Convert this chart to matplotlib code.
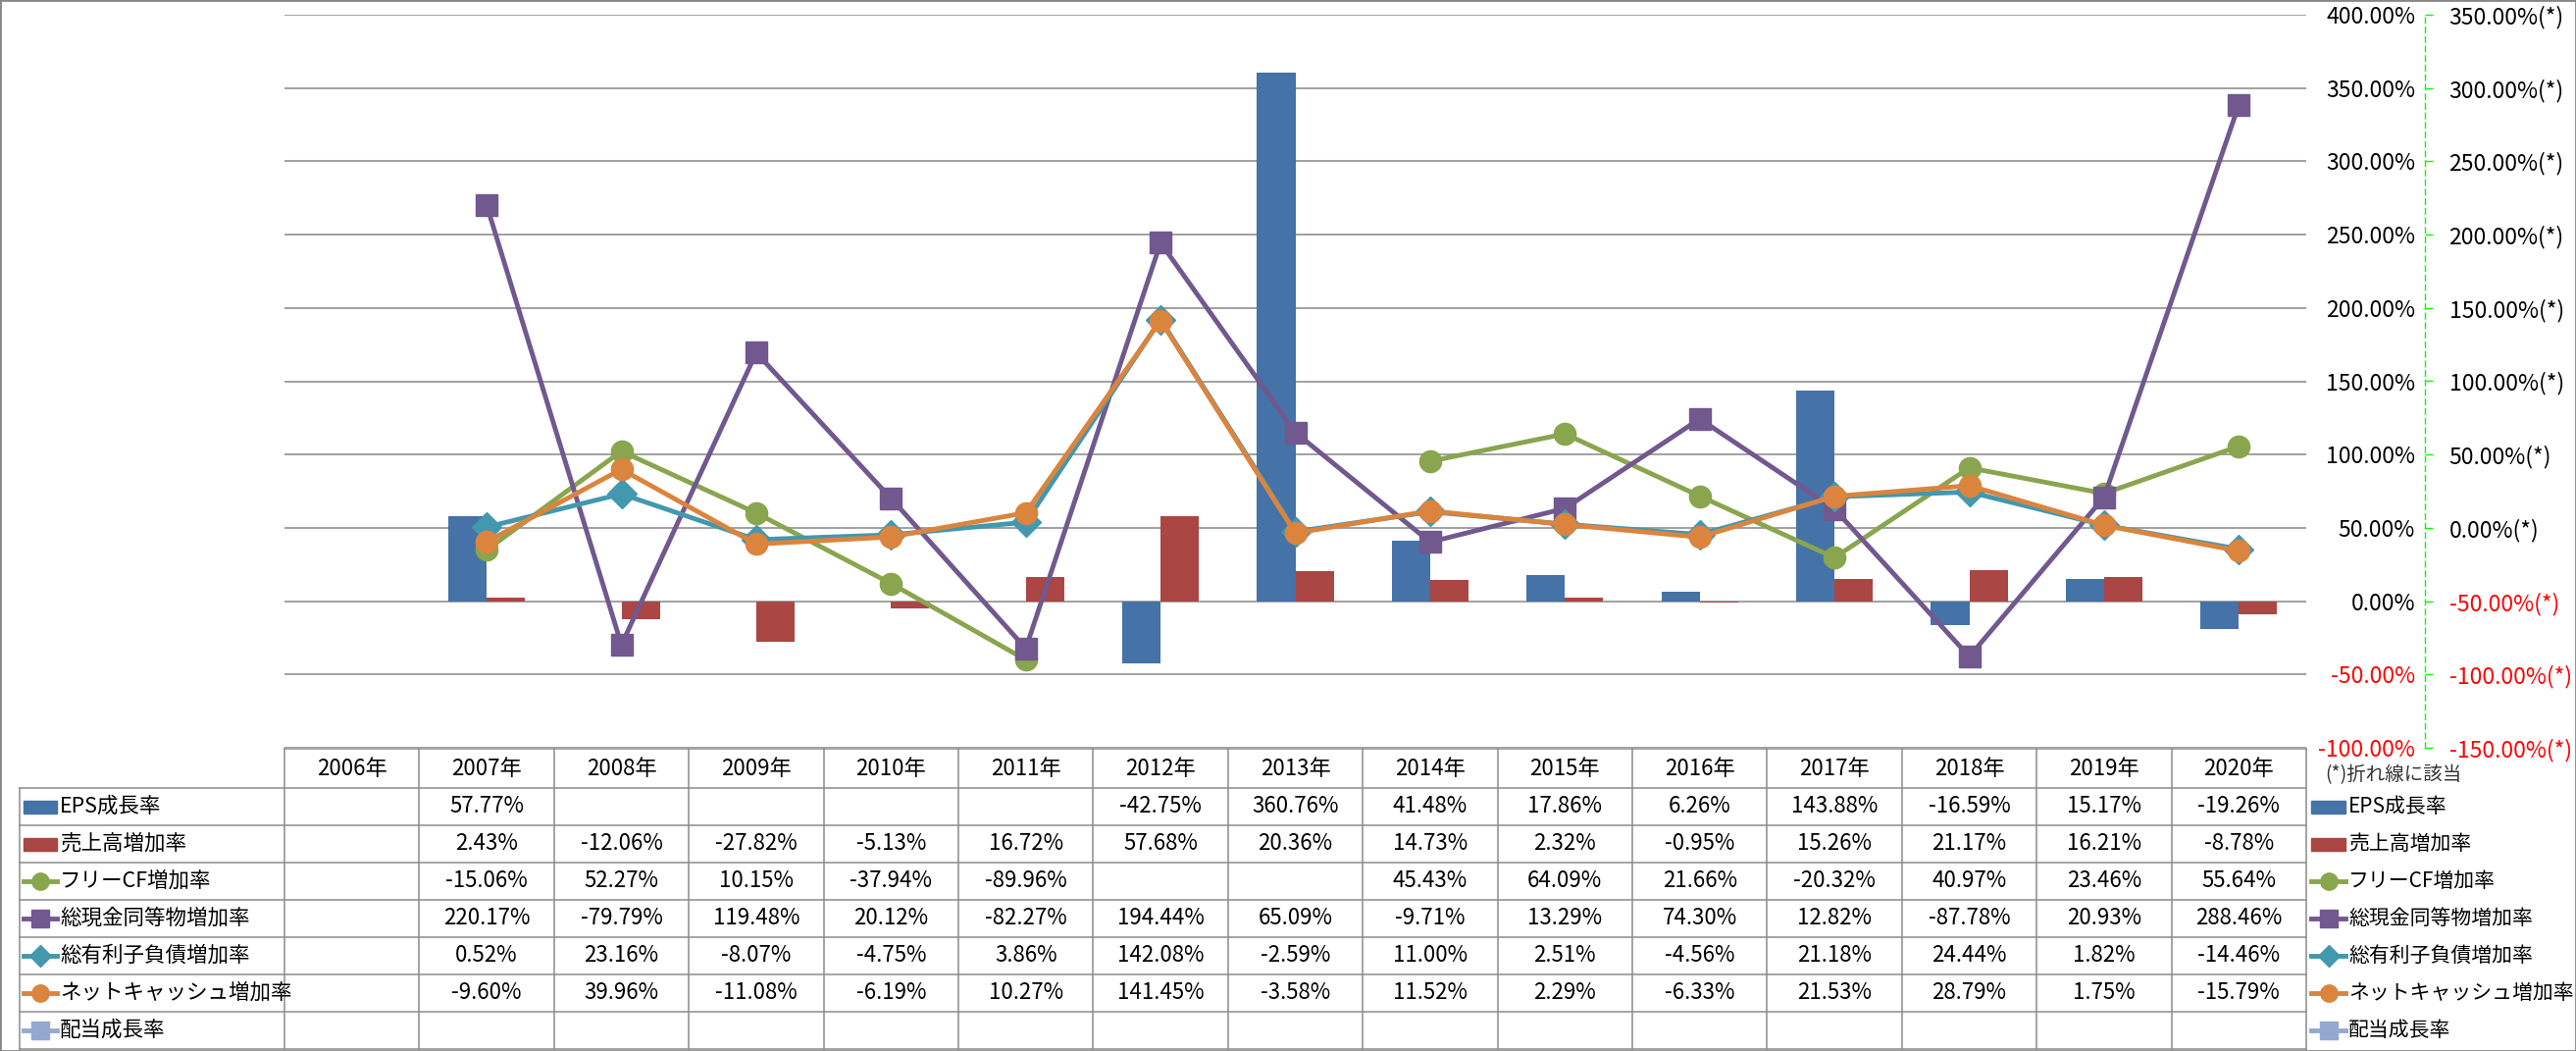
import numpy as np
import matplotlib
matplotlib.use("Agg")
import matplotlib.pyplot as plt
from matplotlib.patches import Rectangle

plt.rcParams['font.family'] = ['Noto Sans CJK JP', 'DejaVu Sans']

# データ (%)
nan = np.nan
years = list(range(2006, 2021))
eps_growth = [nan, 57.77, nan, nan, nan, nan, -42.75, 360.76, 41.48, 17.86, 6.26, 143.88, -16.59, 15.17, -19.26]
sales_growth = [nan, 2.43, -12.06, -27.82, -5.13, 16.72, 57.68, 20.36, 14.73, 2.32, -0.95, 15.26, 21.17, 16.21, -8.78]
fcf_growth = [nan, -15.06, 52.27, 10.15, -37.94, -89.96, nan, nan, 45.43, 64.09, 21.66, -20.32, 40.97, 23.46, 55.64]
cash_growth = [nan, 220.17, -79.79, 119.48, 20.12, -82.27, 194.44, 65.09, -9.71, 13.29, 74.30, 12.82, -87.78, 20.93, 288.46]
debt_growth = [nan, 0.52, 23.16, -8.07, -4.75, 3.86, 142.08, -2.59, 11.00, 2.51, -4.56, 21.18, 24.44, 1.82, -14.46]
netcash_growth = [nan, -9.60, 39.96, -11.08, -6.19, 10.27, 141.45, -3.58, 11.52, 2.29, -6.33, 21.53, 28.79, 1.75, -15.79]
div_growth = [nan] * 15

bar_ticks = [-100, -50, 0, 50, 100, 150, 200, 250, 300, 350, 400]
line_ticks = [-150, -100, -50, 0, 50, 100, 150, 200, 250, 300, 350]

# 系列の定義 (名前, 値, 種類, 色, マーカー)
series = [
    ("EPS成長率", eps_growth, "bar", "#4572A7", None),
    ("売上高増加率", sales_growth, "bar", "#AA4643", None),
    ("フリーCF増加率", fcf_growth, "line", "#89A54E", "o"),
    ("総現金同等物増加率", cash_growth, "line", "#71588F", "s"),
    ("総有利子負債増加率", debt_growth, "line", "#4198AF", "D"),
    ("ネットキャッシュ増加率", netcash_growth, "line", "#DB843D", "o"),
    ("配当成長率", div_growth, "line", "#93A9CF", "s"),
]
msizes = {"o": 16, "s": 16, "D": 15}

W, H = 2626, 1071
fig = plt.figure(figsize=(W / 100, H / 100), dpi=100)

# プロット領域 (ピクセル)
px_l, px_r, px_t, px_b = 290, 2351, 15, 762
ax = fig.add_axes([px_l / W, 1 - px_b / H, (px_r - px_l) / W, (px_b - px_t) / H])
x = np.arange(len(years))
bw = 0.284

ax.bar(x - bw / 2, eps_growth, bw, color=series[0][3], zorder=2)
ax.bar(x + bw / 2, sales_growth, bw, color=series[1][3], zorder=2)
ax.set_xlim(-0.5, len(years) - 0.5)
ax.set_ylim(-100, 400)
ax.set_xticks([])
ax.yaxis.grid(True, color="#868686", lw=1.1)
ax.set_axisbelow(True)
for s in ax.spines.values():
    s.set_visible(False)

# 折れ線 (第2軸)
ax2 = ax.twinx()
for name, vals, kind, col, mk in series:
    if kind != "line":
        continue
    ax2.plot(x, vals, color=col, lw=3.5, marker=mk, ms=msizes[mk],
             mfc=col, mec=col, zorder=3)
ax2.set_ylim(-150, 350)
for k, s in ax2.spines.items():
    s.set_visible(k == "right")
ax2.spines["right"].set_position(("outward", 87))
ax2.spines["right"].set_color("#00FF00")
ax2.spines["right"].set_linestyle((0, (4, 3)))
ax2.spines["right"].set_linewidth(1)
ax2.set_yticks(line_ticks, [f"{v:.2f}%(*)" for v in line_ticks])
ax2.tick_params(axis="y", direction="out", length=5.8, width=1, color="#00FF00",
                pad=12, labelsize=16.5)
for lab, v in zip(ax2.get_yticklabels(), line_ticks):
    lab.set_color("#FF0000" if v < 0 else "black")

# 棒グラフの目盛り (右側, 右寄せ)
ax.yaxis.tick_right()
ax.set_yticks(bar_ticks, [f"{v:.2f}%" for v in bar_ticks])
ax.tick_params(axis="y", length=0, pad=80, labelsize=16.5)
for lab, v in zip(ax.get_yticklabels(), bar_ticks):
    lab.set_ha("right")
    lab.set_color("#FF0000" if v < 0 else "black")

# データテーブル
tab = fig.add_axes([px_l / W, 2 / H, (px_r - px_l) / W, 306 / H])
tab.set_xlim(-0.5, len(years) - 0.5)
tab.set_ylim(1069, 763)
tab.axis("off")
unit = (px_r - px_l) / len(years)
xl = -0.5 - (px_l - 20) / unit
gc = "#8C8C8C"
row_top = 803
row_h = 38

tab.plot([-0.5, len(years) - 0.5], [763, 763], color=gc, lw=1.1, clip_on=False)
for k in range(len(series) + 1):
    yy = row_top + row_h * k
    tab.plot([xl, len(years) - 0.5], [yy, yy], color=gc, lw=1.1, clip_on=False)
for i in range(len(years) + 1):
    tab.plot([i - 0.5, i - 0.5], [763, 1069], color=gc, lw=1.1, clip_on=False)
tab.plot([xl, xl], [row_top, 1069], color=gc, lw=1.1, clip_on=False)

for i, yr in enumerate(years):
    tab.text(i, 783, f"{yr}年", ha="center", va="center", fontsize=16, clip_on=False)


def legend_key(xa, xb, yc, kind, col, mk):
    if kind == "bar":
        tab.add_patch(Rectangle((xa, yc - 6.5), xb - xa, 13, color=col, clip_on=False))
    else:
        tab.plot([xa, xb], [yc, yc], color=col, lw=3.5, clip_on=False)
        tab.plot([(xa + xb) / 2], [yc], marker=mk, ms=msizes[mk] * 0.78, color=col,
                 clip_on=False)


for k, (name, vals, kind, col, mk) in enumerate(series):
    yc = row_top + row_h * (k + 0.5)
    # 左側の凡例
    legend_key(xl + 4 / unit, xl + 38 / unit, yc, kind, col, mk)
    tab.text(xl + 41 / unit, yc, name, ha="left", va="center", fontsize=15.5, clip_on=False)
    for i, v in enumerate(vals):
        if not np.isnan(v):
            tab.text(i, yc, f"{v:.2f}%", ha="center", va="center", fontsize=16,
                     clip_on=False)
    # 右側の凡例
    xr = len(years) - 0.5
    legend_key(xr + 5 / unit, xr + 40 / unit, yc, kind, col, mk)
    tab.text(xr + 43 / unit, yc, name, ha="left", va="center", fontsize=15, clip_on=False)

tab.text(len(years) - 0.5 + 19 / unit, 790, "(*)折れ線に該当", ha="left", va="center",
         fontsize=14, color="#333333", clip_on=False)

# 外枠
fig.add_artist(Rectangle((0, 0), 1, 1, transform=fig.transFigure, fill=False,
                         ec="#868686", lw=2))

plt.savefig("out.png", dpi=100)
